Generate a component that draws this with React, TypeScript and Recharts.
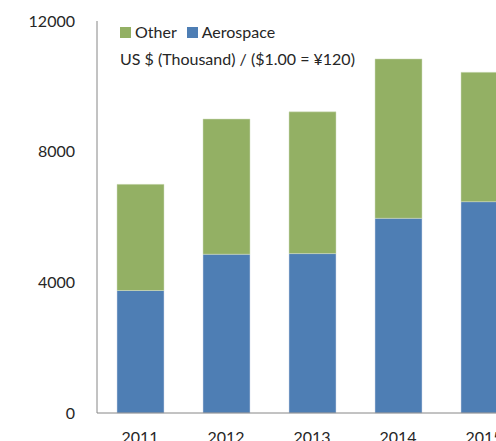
import React from "react";
import { BarChart, Bar, XAxis, YAxis } from "recharts";

const years = ["2011", "2012", "2013", "2014", "2015"];
const aerospace = [3750, 4860, 4880, 5960, 6470];
const other = [3250, 4140, 4340, 4880, 3960];
const yTicks = [0, 4000, 8000, 12000];
const subtitle = "US $ (Thousand) / ($1.00 = ¥120)";
const seriesNames = ["Other", "Aerospace"];

const data = years.map((y, i) => ({ year: y, Aerospace: aerospace[i], Other: other[i] }));

const FONT = "Lato, 'Open Sans', sans-serif";
const BLUE = "#4E7EB4";
const GREEN = "#93B064";
const seriesColors: Record<string, string> = { Other: GREEN, Aerospace: BLUE };

export default function App() {
  return (
    <div style={{ position: "fixed", left: 0, top: 0, width: 496, height: 441, overflow: "hidden", background: "#fff" }}>
      <BarChart
        width={527}
        height={441}
        data={data}
        margin={{ top: 21, right: 0, bottom: 0, left: 0 }}
        barSize={47}
      >
        <XAxis
          dataKey="year"
          height={28}
          tickLine={false}
          tickSize={0}
          tickMargin={19}
          axisLine={{ stroke: "#868686" }}
          tick={{ fill: "#262626", fontSize: 16, fontFamily: FONT }}
          interval={0}
        />
        <YAxis
          width={97}
          domain={[0, 12000]}
          ticks={yTicks}
          tickLine={false}
          tickSize={0}
          tickMargin={22}
          axisLine={{ stroke: "#868686" }}
          tick={{ fill: "#262626", fontSize: 16, fontFamily: FONT }}
          interval={0}
        />
        <Bar dataKey="Aerospace" stackId="a" fill={BLUE} stroke="#d0dbe8" strokeWidth={0.5} isAnimationActive={false} />
        <Bar dataKey="Other" stackId="a" fill={GREEN} stroke="#d2dec0" strokeWidth={0.5} isAnimationActive={false} />
      </BarChart>
      <div style={{ position: "absolute", left: 120, top: 22, fontFamily: FONT, color: "#262626", fontSize: 16, lineHeight: "20px" }}>
        <div style={{ display: "flex", alignItems: "center", height: 20 }}>
          {seriesNames.map((n) => (
            <React.Fragment key={n}>
              <span style={{ display: "inline-block", width: 11, height: 11, background: seriesColors[n], marginRight: 4 }} />
              <span style={{ marginRight: 10 }}>{n}</span>
            </React.Fragment>
          ))}
        </div>
        <div style={{ marginTop: 7, whiteSpace: "nowrap" }}>{subtitle}</div>
      </div>
    </div>
  );
}
